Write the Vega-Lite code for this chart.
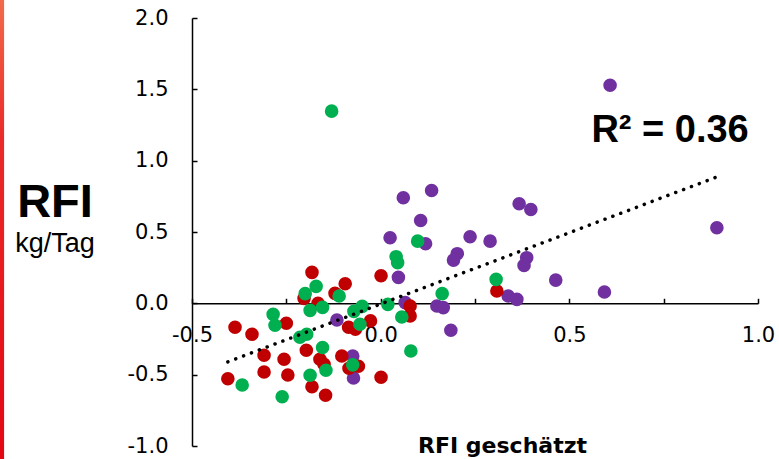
{
  "$schema": "https://vega.github.io/schema/vega-lite/v6.json",
  "width": 566,
  "height": 428,
  "autosize": {"type": "none"},
  "padding": {"left": 192, "top": 18, "right": 21, "bottom": 13},
  "background": "white",
  "config": {"view": {"stroke": null}},
  "title": {
    "text": "RFI",
    "subtitle": "kg/Tag",
    "anchor": "start",
    "frame": "group",
    "align": "center",
    "dx": -137,
    "dy": 263,
    "font": "Liberation Sans",
    "fontSize": 47,
    "fontWeight": "bold",
    "color": "black",
    "subtitleFont": "Liberation Sans",
    "subtitleFontSize": 27,
    "subtitleColor": "black",
    "subtitlePadding": 4
  },
  "datasets": {
    "points": [
      {"gruppe": "C", "x": -0.116, "y": -0.117},
      {"gruppe": "C", "x": -0.074, "y": -0.369},
      {"gruppe": "C", "x": -0.072, "y": -0.523},
      {"gruppe": "C", "x": 0.060, "y": 0.740},
      {"gruppe": "C", "x": 0.135, "y": 0.791},
      {"gruppe": "C", "x": 0.106, "y": 0.581},
      {"gruppe": "C", "x": 0.025, "y": 0.460},
      {"gruppe": "C", "x": 0.119, "y": 0.418},
      {"gruppe": "C", "x": 0.203, "y": 0.348},
      {"gruppe": "C", "x": 0.193, "y": 0.303},
      {"gruppe": "C", "x": 0.237, "y": 0.467},
      {"gruppe": "C", "x": 0.290, "y": 0.436},
      {"gruppe": "C", "x": 0.367, "y": 0.698},
      {"gruppe": "C", "x": 0.398, "y": 0.658},
      {"gruppe": "C", "x": 0.387, "y": 0.320},
      {"gruppe": "C", "x": 0.380, "y": 0.266},
      {"gruppe": "C", "x": 0.464, "y": 0.163},
      {"gruppe": "C", "x": 0.047, "y": 0.182},
      {"gruppe": "C", "x": 0.338, "y": 0.051},
      {"gruppe": "C", "x": 0.361, "y": 0.028},
      {"gruppe": "C", "x": 0.149, "y": -0.019},
      {"gruppe": "C", "x": 0.166, "y": -0.030},
      {"gruppe": "C", "x": 0.186, "y": -0.189},
      {"gruppe": "C", "x": 0.065, "y": 0.005},
      {"gruppe": "C", "x": 0.608, "y": 1.529},
      {"gruppe": "C", "x": 0.891, "y": 0.530},
      {"gruppe": "C", "x": 0.593, "y": 0.079},
      {"gruppe": "A", "x": -0.182, "y": 0.217},
      {"gruppe": "A", "x": -0.094, "y": 0.137},
      {"gruppe": "A", "x": 0.001, "y": 0.193},
      {"gruppe": "A", "x": -0.121, "y": 0.070},
      {"gruppe": "A", "x": -0.203, "y": 0.035},
      {"gruppe": "A", "x": -0.166, "y": 0.000},
      {"gruppe": "A", "x": -0.386, "y": -0.168},
      {"gruppe": "A", "x": -0.341, "y": -0.217},
      {"gruppe": "A", "x": -0.250, "y": -0.140},
      {"gruppe": "A", "x": -0.027, "y": -0.123},
      {"gruppe": "A", "x": -0.085, "y": -0.168},
      {"gruppe": "A", "x": -0.067, "y": -0.182},
      {"gruppe": "A", "x": -0.309, "y": -0.364},
      {"gruppe": "A", "x": -0.256, "y": -0.392},
      {"gruppe": "A", "x": -0.197, "y": -0.329},
      {"gruppe": "A", "x": -0.161, "y": -0.392},
      {"gruppe": "A", "x": -0.150, "y": -0.427},
      {"gruppe": "A", "x": -0.103, "y": -0.369},
      {"gruppe": "A", "x": -0.309, "y": -0.481},
      {"gruppe": "A", "x": -0.246, "y": -0.502},
      {"gruppe": "A", "x": -0.405, "y": -0.529},
      {"gruppe": "A", "x": -0.182, "y": -0.585},
      {"gruppe": "A", "x": -0.146, "y": -0.644},
      {"gruppe": "A", "x": 0.001, "y": -0.518},
      {"gruppe": "A", "x": -0.084, "y": -0.455},
      {"gruppe": "A", "x": -0.059, "y": -0.441},
      {"gruppe": "A", "x": 0.308, "y": 0.086},
      {"gruppe": "A", "x": 0.078, "y": -0.019},
      {"gruppe": "A", "x": 0.078, "y": -0.088},
      {"gruppe": "B", "x": -0.171, "y": 0.119},
      {"gruppe": "B", "x": -0.200, "y": 0.068},
      {"gruppe": "B", "x": -0.110, "y": 0.051},
      {"gruppe": "B", "x": -0.154, "y": -0.028},
      {"gruppe": "B", "x": -0.187, "y": -0.049},
      {"gruppe": "B", "x": -0.285, "y": -0.077},
      {"gruppe": "B", "x": -0.280, "y": -0.154},
      {"gruppe": "B", "x": -0.049, "y": -0.021},
      {"gruppe": "B", "x": -0.071, "y": -0.056},
      {"gruppe": "B", "x": -0.055, "y": -0.147},
      {"gruppe": "B", "x": -0.214, "y": -0.238},
      {"gruppe": "B", "x": -0.196, "y": -0.217},
      {"gruppe": "B", "x": -0.154, "y": -0.310},
      {"gruppe": "B", "x": -0.187, "y": -0.504},
      {"gruppe": "B", "x": -0.145, "y": -0.469},
      {"gruppe": "B", "x": -0.074, "y": -0.431},
      {"gruppe": "B", "x": -0.367, "y": -0.572},
      {"gruppe": "B", "x": -0.261, "y": -0.655},
      {"gruppe": "B", "x": 0.019, "y": -0.007},
      {"gruppe": "B", "x": 0.041, "y": 0.327},
      {"gruppe": "B", "x": 0.045, "y": 0.285},
      {"gruppe": "B", "x": 0.098, "y": 0.436},
      {"gruppe": "B", "x": 0.306, "y": 0.168},
      {"gruppe": "B", "x": 0.163, "y": 0.068},
      {"gruppe": "B", "x": 0.056, "y": -0.096},
      {"gruppe": "B", "x": 0.080, "y": -0.334},
      {"gruppe": "B", "x": -0.130, "y": 1.347}
    ],
    "trend": [
      {"x": -0.405, "y": -0.41},
      {"x": 0.89, "y": 0.885}
    ],
    "label": [
      {"x": 0.767, "y": 1.134, "text": "R² = 0.36"}
    ]
  },
  "layer": [
    {
      "data": {"values": [{}]},
      "mark": {"type": "rect", "clip": false, "fill": {"gradient": "linear", "x1": 0, "y1": 0, "x2": 0, "y2": 1, "stops": [{"offset": 0, "color": "#F26B4B"}, {"offset": 0.3, "color": "#EA2A2A"}, {"offset": 1, "color": "#E30613"}]}},
      "encoding": {
        "x": {"datum": -1.009, "type": "quantitative", "scale": {"domain": [-0.5, 1.0], "nice": false, "zero": false}},
        "x2": {"datum": -0.998},
        "y": {"datum": 2.13, "type": "quantitative", "scale": {"domain": [-1.0, 2.0], "nice": false, "zero": false}},
        "y2": {"datum": -1.1}
      }
    },
    {
      "data": {"name": "points"},
      "mark": {"type": "circle", "size": 185, "opacity": 1},
      "encoding": {
        "x": {
          "field": "x", "type": "quantitative",
          "scale": {"domain": [-0.5, 1.0], "nice": false, "zero": false},
          "axis": {
            "values": [-0.5, -0.25, 0, 0.25, 0.5, 0.75, 1.0],
            "labelExpr": "abs(datum.value % 0.5) < 0.001 ? replace(format(datum.value, '.1f'), '\u2212', '-') : ''",
            "labelFlush": false,
            "offset": -142.7,
            "grid": false,
            "domainColor": "black", "domainWidth": 1.5,
            "tickColor": "black", "tickWidth": 1.5, "tickSize": -5,
            "labelPadding": 26,
            "labelFont": "DejaVu Sans", "labelFontSize": 21, "labelColor": "black",
            "title": "RFI geschätzt",
            "titleFont": "DejaVu Sans", "titleFontSize": 22, "titleFontWeight": "bold", "titleColor": "black",
            "titleX": 310, "titleY": 149, "titleAlign": "center", "titleBaseline": "alphabetic"
          }
        },
        "y": {
          "field": "y", "type": "quantitative",
          "scale": {"domain": [-1.0, 2.0], "nice": false, "zero": false},
          "axis": {
            "values": [-1.0, -0.75, -0.5, -0.25, 0, 0.25, 0.5, 0.75, 1.0, 1.25, 1.5, 1.75, 2.0],
            "labelExpr": "abs(datum.value % 0.5) < 0.001 ? replace(format(datum.value, '.1f'), '\u2212', '-') : ''",
            "labelFlush": false,
            "grid": false,
            "domainColor": "black", "domainWidth": 1.5,
            "tickColor": "black", "tickWidth": 1.5, "tickSize": -5,
            "labelPadding": 29,
            "labelFont": "DejaVu Sans", "labelFontSize": 21, "labelColor": "black",
            "title": null
          }
        },
        "color": {
          "field": "gruppe", "type": "nominal",
          "scale": {"domain": ["A", "B", "C"], "range": ["#C00000", "#00B050", "#7030A0"]},
          "legend": null
        }
      }
    },
    {
      "data": {"name": "trend"},
      "mark": {"type": "line", "color": "black", "strokeWidth": 3.5, "strokeDash": [0.1, 8.3], "strokeCap": "round"},
      "encoding": {
        "x": {"field": "x", "type": "quantitative"},
        "y": {"field": "y", "type": "quantitative"}
      }
    },
    {
      "data": {"name": "label"},
      "mark": {"type": "text", "font": "Liberation Sans", "fontSize": 38, "fontWeight": "bold", "color": "black", "align": "center", "baseline": "alphabetic"},
      "encoding": {
        "x": {"field": "x", "type": "quantitative"},
        "y": {"field": "y", "type": "quantitative"},
        "text": {"field": "text"}
      }
    }
  ]
}
